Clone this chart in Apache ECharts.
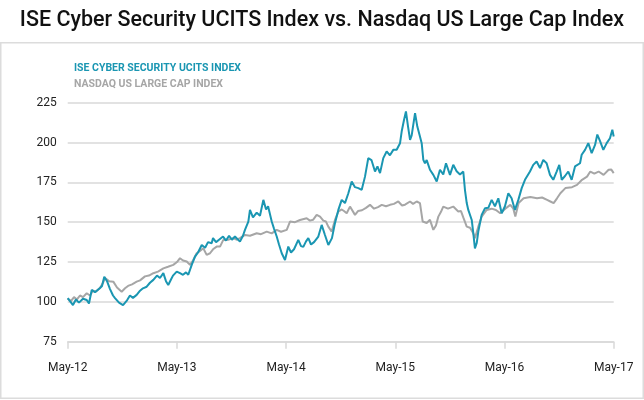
<!DOCTYPE html>
<html>
<head>
<meta charset="utf-8">
<script src="https://cdn.jsdelivr.net/npm/echarts@6/dist/echarts.min.js"></script>
<style>
html,body{margin:0;padding:0;background:#fff;}
#c{width:644px;height:400px;}
</style>
</head>
<body>
<div id="c"></div>
<script>
// X positions are months since May-2012
const xTickLabels = ['May-12','May-13','May-14','May-15','May-16','May-17'];
const seriesNames = ['ISE CYBER SECURITY UCITS INDEX','NASDAQ US LARGE CAP INDEX'];

const iseMonths = [0,0.25,0.58,0.9,1.24,1.68,2.09,2.34,2.64,3.0,3.55,3.77,4.02,4.32,4.65,4.98,5.2,5.64,6.08,6.52,6.84,7.17,7.58,7.95,8.27,8.68,9.04,9.41,9.81,10.14,10.51,10.8,11.05,11.35,11.57,11.98,12.34,12.67,13.0,13.25,13.63,13.99,14.32,14.73,15.1,15.42,15.82,15.97,16.3,16.63,17.07,17.4,17.73,18.05,18.38,18.93,19.26,19.48,19.85,20.03,20.36,20.77,21.13,21.5,21.8,22.02,22.23,22.42,22.67,22.97,23.22,23.52,23.88,24.24,24.54,24.87,25.34,25.64,25.89,26.19,26.44,26.74,27.07,27.54,27.91,28.27,28.64,28.82,29.04,29.37,29.74,30.11,30.47,30.84,31.21,31.57,31.94,32.31,32.67,33.03,33.38,33.77,34.04,34.32,34.68,35.05,35.41,35.78,36.15,36.52,36.7,36.95,37.17,37.4,37.62,37.8,38.17,38.42,38.71,38.9,39.08,39.26,39.45,39.81,40.18,40.55,40.91,41.27,41.57,42.01,42.37,42.74,43.11,43.47,43.66,43.85,44.02,44.4,44.57,44.75,44.95,45.12,45.49,45.86,46.22,46.59,46.95,47.32,47.69,48.05,48.42,48.78,49.15,49.52,49.89,50.25,50.8,51.16,51.53,51.9,52.26,52.63,53.0,53.36,53.73,54.02,54.29,54.65,55.01,55.38,55.75,56.3,56.48,56.85,57.21,57.58,57.95,58.2,58.49,58.86,59.23,59.59,59.85,60.0];
const iseValues = [102.3,100.5,98,101.5,99.5,102,101.2,99,107.5,106,108.7,110,115.8,113,108,104,102.4,99.5,98,101,104,102.5,104.4,107,108.5,109.5,112,113.8,116.5,115,118,113,110.6,114,116.5,119,118,117,118.5,117,123.2,128.4,131,135.7,134,137.5,136.8,140,137.5,139,141,138.5,141.5,139,141,137.8,141.5,145.2,150.4,157.7,153,156,154,164,158,160,159,150.4,146,141,136,130.5,126.3,134.7,131,133,138.9,135,134.5,138,140,136,137.5,141,148.3,142,135.7,134.7,140,149.4,157.7,164,162,168.2,175.5,172,171.4,170.3,178.6,190.2,189,181.8,185,180.8,190.2,194.4,192,195.4,195.5,199.6,206.9,214,219.5,210,201.7,204.5,218.5,210,203.8,199.6,189.1,187,189,182.9,179.7,175.5,182.9,180,187,179.7,186,182,180,181.8,170,162,157.7,151.4,143.1,133.6,137,144.1,154.6,158.8,159,164,160,165,155.6,160,168.2,165,157.7,164,171.4,176.6,181.8,186,188.1,184,189.1,187,179.7,176.6,181.8,186,176.6,179,181.8,176.6,185,187,192.3,195.4,199.6,193.3,198.5,205,201,195.4,199.6,202.7,208,203.8];

const ndqMonths = [0,0.36,0.69,1.02,1.35,1.68,2.09,2.45,2.78,3.11,3.55,3.88,4.1,4.54,5.01,5.42,5.93,6.3,6.63,7.07,7.58,7.95,8.49,8.93,9.41,9.92,10.51,11.02,11.6,12.01,12.34,12.67,13.08,13.44,13.77,14.17,14.54,14.9,15.27,15.64,15.97,16.37,16.74,17.1,17.63,18.2,18.6,18.93,19.48,20.03,20.77,21.24,21.87,22.42,22.97,23.44,24.07,24.43,24.98,25.53,26.26,26.62,26.96,27.36,27.73,28.09,28.38,28.64,29.01,29.37,29.74,30.11,30.36,30.66,31.02,31.57,31.9,32.34,32.78,33.22,33.66,34.1,34.51,34.98,35.42,35.85,36.33,36.74,37.07,37.62,37.95,38.35,38.71,38.9,39.01,39.45,39.81,40.18,40.47,40.73,41.02,41.27,41.79,42.37,42.92,43.22,43.47,43.85,44.21,44.57,44.75,45.12,45.49,46.04,46.59,47.06,47.53,48.09,48.64,48.97,49.19,49.55,50.1,50.84,51.58,52.13,52.68,53.04,53.4,53.77,54.14,54.69,55.42,55.97,56.52,57.07,57.43,57.87,58.34,58.89,59.44,59.74,60.0];
const ndqValues = [102,100.5,103,101.5,104,103,105.4,104,107,106.5,108.7,112,115,113,112.7,109,106.4,108.5,110,111,112.7,113.5,116,116.5,118,119,121,122,123.2,125,127.4,126,125.3,123.2,126,130.5,132,133.6,129.5,130.5,133,134.7,134.7,138.9,139,140,139,140,142,141.5,143.1,142.5,144.1,143,145.2,144,145.2,150.4,150,151.4,152.5,151,151.5,154.6,153.5,151,150.4,147.2,144.1,151.4,156.7,158,157,155.6,159.8,154.6,157,157.5,159,160.9,158.5,159.5,160.9,160,160.9,161.5,163,160.5,161,163,161.5,163,162,160.9,150.4,149.5,151.5,145.2,148,153.5,156.5,159.8,158.5,159.8,156.7,157,153,147.2,146.5,143.1,140,147.2,153.5,157.7,158.5,157.7,155.6,158.5,160.9,158.5,153.5,162,165,165.8,165,165.5,164,163,162,165,168.2,171.4,172,173.4,176.6,178.6,181.8,180.5,181.8,179.7,182.9,183,180.8];

const yMin = 75, yMax = 225, yStep = 25;

function pairs(xs, ys){ return xs.map((x,i)=>[x, ys[i]]); }

const chart = echarts.init(document.getElementById('c'), null, {renderer:'canvas'});
chart.setOption({
  animation:false,
  backgroundColor:'#fff',
  title:{
    text:'ISE Cyber Security UCITS Index vs. Nasdaq US Large Cap Index',
    left:'center', top:5,
    textStyle:{fontFamily:'Roboto', fontSize:21.5, fontWeight:500, color:'#111'}
  },
  graphic:[{
    type:'rect', silent:true, z:-1,
    shape:{x:0.75, y:42.75, width:642.5, height:355.5},
    style:{fill:'#fff', stroke:'#dcdcdc', lineWidth:1.5}
  }],
  legend:{
    show:true, orient:'vertical', left:64, top:58, itemGap:5,
    icon:'none', itemWidth:0, itemHeight:0,
    selectedMode:false,
    data:[
      {name:seriesNames[0], textStyle:{color:'#1a96b2'}},
      {name:seriesNames[1], textStyle:{color:'#a6a6a6'}}
    ],
    textStyle:{fontFamily:'Roboto', fontSize:10.5, fontWeight:'bold', padding:0}
  },
  grid:{left:67.7, right:30.3, top:102.7, bottom:58.3},
  xAxis:{
    type:'value', min:0, max:60, interval:12,
    axisLine:{show:true, lineStyle:{color:'#d9d9d9', width:1.5}},
    axisTick:{show:true, length:7, lineStyle:{color:'#d9d9d9', width:1.5}},
    splitLine:{show:false},
    axisLabel:{
      margin:20, color:'#222', fontFamily:'Roboto', fontSize:12,
      formatter:function(v){ return xTickLabels[Math.round(v/12)] || ''; }
    }
  },
  yAxis:{
    type:'value', min:yMin, max:yMax, interval:yStep,
    axisLine:{show:false}, axisTick:{show:false},
    splitLine:{show:true, lineStyle:{color:'#d9d9d9', width:1.5}},
    axisLabel:{margin:11, color:'#222', fontFamily:'Roboto', fontSize:12}
  },
  series:[
    {
      name:seriesNames[1], type:'line', showSymbol:false, symbol:'none',
      data:pairs(ndqMonths, ndqValues),
      lineStyle:{color:'#a6a6a6', width:2}, itemStyle:{color:'#a6a6a6'}, z:2
    },
    {
      name:seriesNames[0], type:'line', showSymbol:false, symbol:'none',
      data:pairs(iseMonths, iseValues),
      lineStyle:{color:'#1a96b2', width:2}, itemStyle:{color:'#1a96b2'}, z:3
    }
  ]
});
</script>
</body>
</html>
